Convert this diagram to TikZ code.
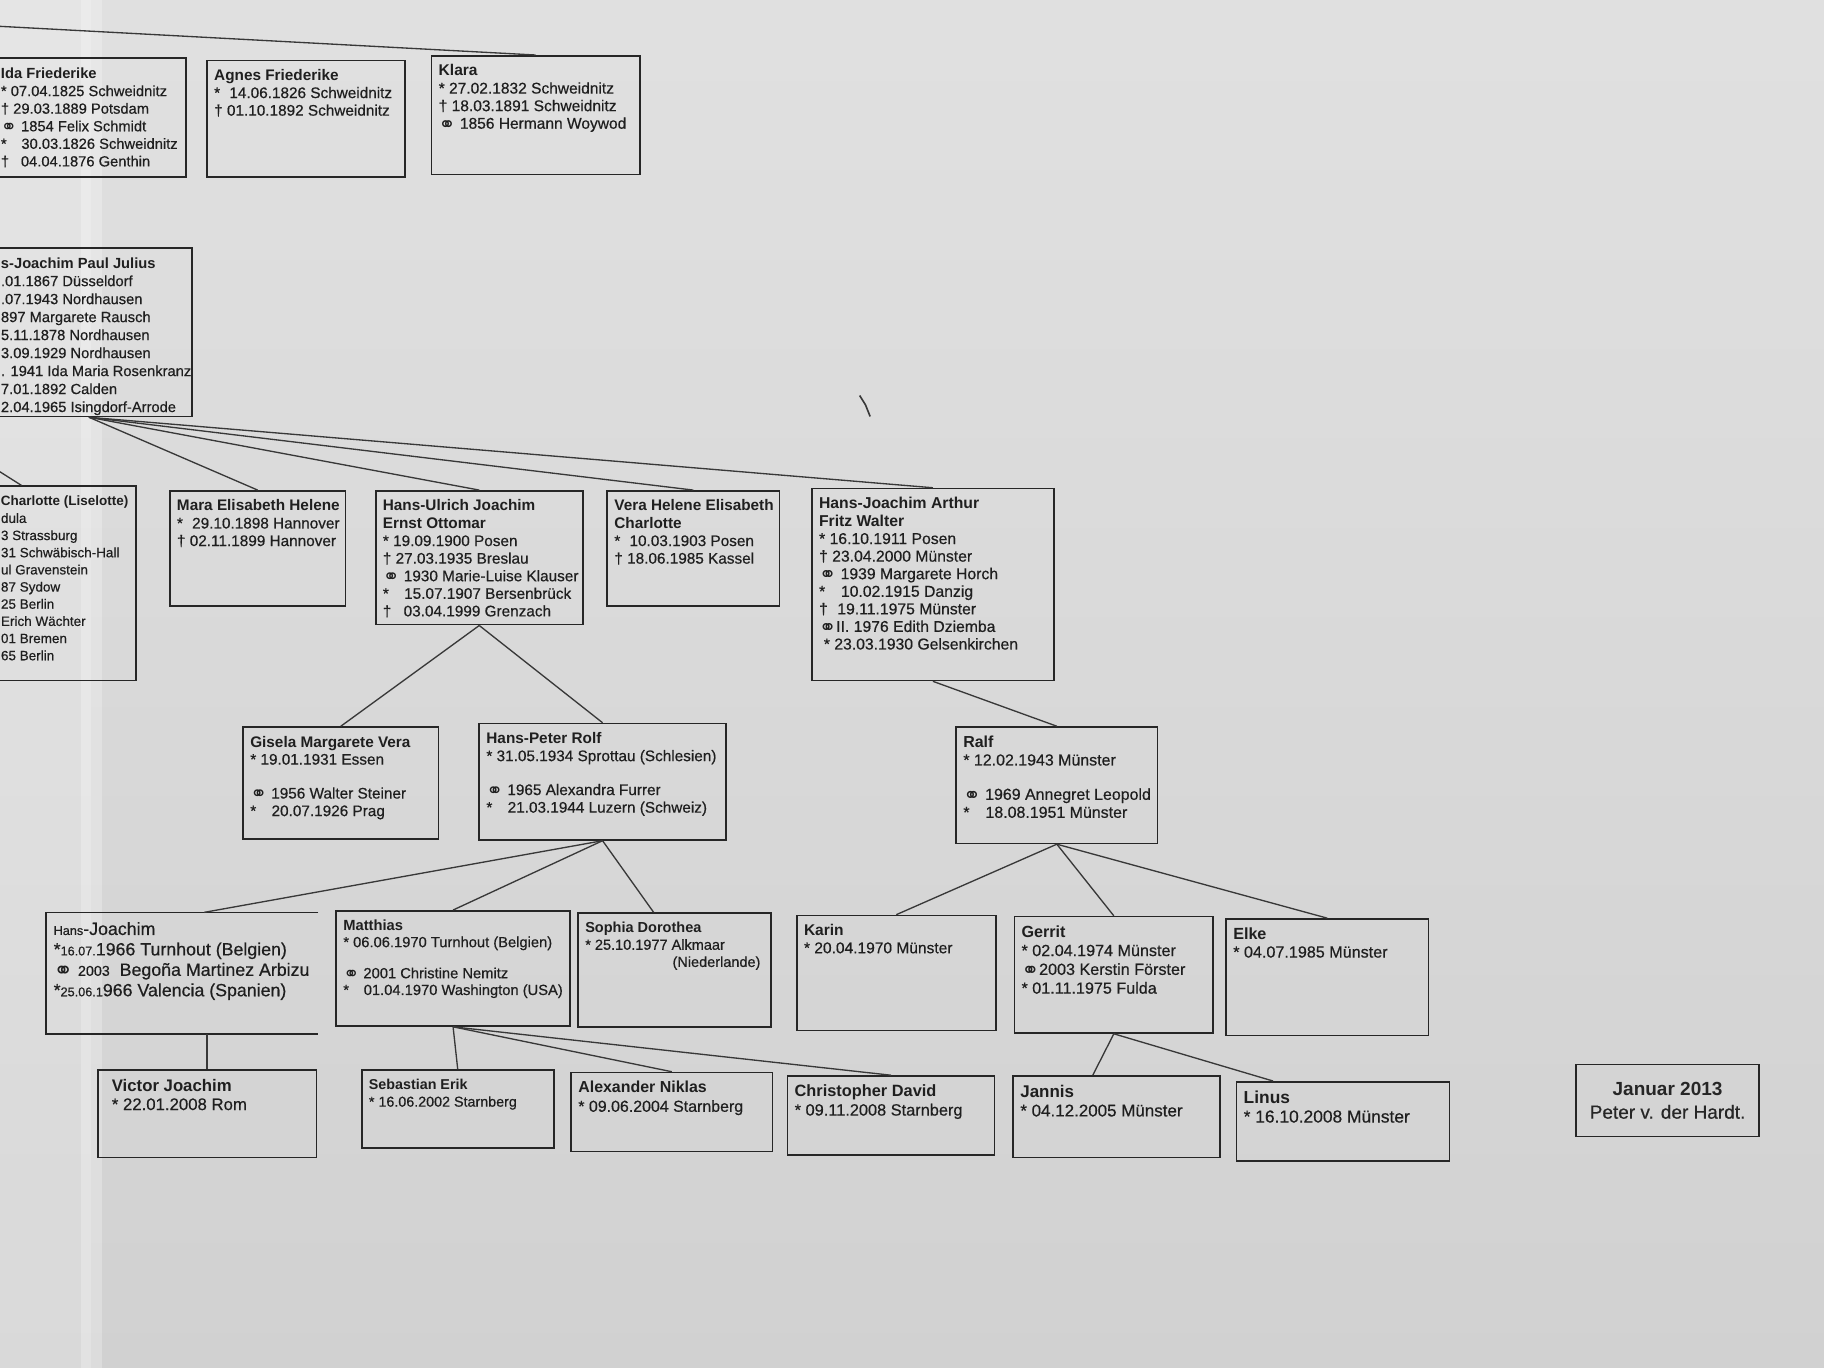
\documentclass[tikz,border=0pt]{standalone}
\usepackage{fontspec}
\setmainfont{Liberation Sans}[UprightFeatures={FakeBold=0.5}]
\newfontfamily\symfont{DejaVu Sans}
\usetikzlibrary{fit}
\newcommand{\verh}{\raisebox{-0.15em}{\scalebox{1.3}{\symfont ⚭}}}
\tikzset{fam/.style = {draw=black!85, line width=0.8pt, inner sep=0}}
\tikzset{data/.style = {anchor=north west, align=left, inner xsep=0.13cm, inner ysep=0.16cm, text=black!88, font=\fontsize{7.5}{8.6}\selectfont}}
\tikzset{fs/.style 2 args = {font=\fontsize{#1}{#2}\selectfont}}
\tikzset{kin/.style = {draw=black!78, line width=0.65pt}}

\begin{document}
\begin{tikzpicture}[x=0.02cm, y=-0.02cm]
    \useasboundingbox (0,0) rectangle (1568,1176);
    \shade [top color=black!12, bottom color=black!18] (0,0) rectangle (1568,1176);
    \clip (0,0) rectangle (1568,1176);
    \fill [white, opacity=0.18] (0,0) rectangle (78,1176);
    \fill [white, opacity=0.25] (70,0) rectangle (88,1176);

    % top row
    \node [fam, fit={(-12,50) (160,152)}] (ida) {};
    \node [data, fs={7.2}{8.6}] (ida-t) at (-6,50) {\textbf{Ida Friederike}\\* 07.04.1825 Schweidnitz\\† 29.03.1889 Potsdam\\\verh{} 1854 Felix Schmidt\\*\hspace{1em}30.03.1826 Schweidnitz\\†\hspace{0.8em}04.04.1876 Genthin};
    \node [fam, fit={(178,52) (348,152)}] (agnes) {};
    \node [data] (agnes-t) at (agnes.north west) {\textbf{Agnes Friederike}\\*\hspace{0.6em}14.06.1826 Schweidnitz\\† 01.10.1892 Schweidnitz};
    \node [fam, fit={(371,48) (550,150)}] (klara) {};
    \node [data, fs={7.6}{8.6}] (klara-t) at (klara.north west) {\textbf{Klara}\\* 27.02.1832 Schweidnitz\\† 18.03.1891 Schweidnitz\\\verh{} 1856 Hermann Woywod};
    \coordinate (gp) at (-12,22);
    \draw [kin] (gp) -- (klara.north);

    % Hans-Joachim Paul Julius
    \node [fam, fit={(-12,213) (165,358)}] (hjpj) {};
    \node [data, fs={7.2}{8.8}] (hjpj-t) at (-6,213) {\textbf{s-Joachim Paul Julius}\\.01.1867 Düsseldorf\\.07.1943 Nordhausen\\897 Margarete Rausch\\5.11.1878 Nordhausen\\3.09.1929 Nordhausen\\. 1941 Ida Maria Rosenkranz\\7.01.1892 Calden\\2.04.1965 Isingdorf-Arrode};

    % children
    \node [fam, fit={(-80,418) (117,585)}] (charlotte) {};
    \node [data, fs={6.6}{8.4}] (charlotte-t) at (-6,418) {\textbf{Charlotte (Liselotte)}\\dula\\3 Strassburg\\31 Schwäbisch-Hall\\ul Gravenstein\\87 Sydow\\25 Berlin\\Erich Wächter\\01 Bremen\\65 Berlin};
    \node [fam, fit={(146,422) (297,521)}] (mara) {};
    \node [data] (mara-t) at (mara.north west) {\textbf{Mara Elisabeth Helene}\\*\hspace{0.6em}29.10.1898 Hannover\\† 02.11.1899 Hannover};
    \node [fam, fit={(323,422) (501,537)}] (hu) {};
    \node [data] (hu-t) at (hu.north west) {\textbf{Hans-Ulrich Joachim}\\\textbf{Ernst Ottomar}\\* 19.09.1900 Posen\\† 27.03.1935 Breslau\\\verh{} 1930 Marie-Luise Klauser\\*\hspace{1em}15.07.1907 Bersenbrück\\†\hspace{0.8em}03.04.1999 Grenzach};
    \node [fam, fit={(522,422) (670,521)}] (vera) {};
    \node [data] (vera-t) at (vera.north west) {\textbf{Vera Helene Elisabeth}\\\textbf{Charlotte}\\*\hspace{0.6em}10.03.1903 Posen\\† 18.06.1985 Kassel};
    \node [fam, fit={(698,420) (906,585)}] (hja) {};
    \node [data, fs={7.7}{8.6}] (hja-t) at (hja.north west) {\textbf{Hans-Joachim Arthur}\\\textbf{Fritz Walter}\\* 16.10.1911 Posen\\† 23.04.2000 Münster\\\verh{} 1939 Margarete Horch\\*\hspace{1em}10.02.1915 Danzig\\†\hspace{0.6em}19.11.1975 Münster\\\verh{}II. 1976 Edith Dziemba\\\hspace{0.3em}* 23.03.1930 Gelsenkirchen};
    \coordinate (cp) at (-12,398);
    \draw [kin] (cp) -- (charlotte.north);
    \draw [kin] (hjpj.south) -- (mara.north);
    \draw [kin] (hjpj.south) -- (hu.north);
    \draw [kin] (hjpj.south) -- (vera.north);
    \draw [kin] (hjpj.south) -- (hja.north);

    % grandchildren
    \node [fam, fit={(209,625) (377,721)}] (gisela) {};
    \node [data, fs={7.5}{8.6}] (gisela-t) at (gisela.north west) {\textbf{Gisela Margarete Vera}\\* 19.01.1931 Essen\\[8pt]\verh{} 1956 Walter Steiner\\*\hspace{1em}20.07.1926 Prag};
    \node [fam, fit={(412,622) (624,722)}] (hp) {};
    \node [data] (hp-t) at (hp.north west) {\textbf{Hans-Peter Rolf}\\* 31.05.1934 Sprottau (Schlesien)\\[8pt]\verh{} 1965 Alexandra Furrer\\*\hspace{1em}21.03.1944 Luzern (Schweiz)};
    \node [fam, fit={(822,625) (995,725)}] (ralf) {};
    \node [data, fs={7.8}{8.8}] (ralf-t) at (ralf.north west) {\textbf{Ralf}\\* 12.02.1943 Münster\\[8pt]\verh{} 1969 Annegret Leopold\\*\hspace{1em}18.08.1951 Münster};
    \draw [kin] (hu.south) -- (gisela.north);
    \draw [kin] (hu.south) -- (hp.north);
    \draw [kin] (hja.south) -- (ralf.north);

    % great-grandchildren
    \node [fam, draw=none, fit={(40,785) (273,888)}] (hjgs) {};
    \draw [fam] (hjgs.north east) -- (hjgs.north west) -- (hjgs.south west) -- (hjgs.south east);
    \node [data, fs={8.7}{10}] (hjgs-t) at (hjgs.north west) {{\fontsize{6.2}{8}\selectfont Hans}-Joachim\\*{\fontsize{6.2}{8}\selectfont 16.07.}1966 Turnhout (Belgien)\\\verh{} {\fontsize{7}{8}\selectfont 2003}\ \ Begoña Martinez Arbizu\\*{\fontsize{6.2}{8}\selectfont 25.06.1}966 Valencia (Spanien)};
    \node [fam, fit={(289,783) (490,882)}] (matthias) {};
    \node [data, fs={7.2}{8.2}] (matthias-t) at (matthias.north west) {\textbf{Matthias}\\* 06.06.1970 Turnhout (Belgien)\\[7pt]\verh{} 2001 Christine Nemitz\\*\hspace{1em}01.04.1970 Washington (USA)};
    \node [fam, fit={(497,785) (663,883)}] (sophia) {};
    \node [data, fs={7.1}{8.4}] (sophia-t) at (sophia.north west) {\textbf{Sophia Dorothea}\\* 25.10.1977 Alkmaar\\\hspace*{1.5cm}(Niederlande)};
    \node [fam, fit={(685,787) (856,886)}] (karin) {};
    \node [data, fs={7.6}{8.6}] (karin-t) at (karin.north west) {\textbf{Karin}\\* 20.04.1970 Münster};
    \node [fam, fit={(872,788) (1043,888)}] (gerrit) {};
    \node [data, fs={7.9}{9.2}] (gerrit-t) at (gerrit.north west) {\textbf{Gerrit}\\* 02.04.1974 Münster\\\verh{}2003 Kerstin Förster\\* 01.11.1975 Fulda};
    \node [fam, fit={(1054,790) (1228,890)}] (elke) {};
    \node [data, fs={7.9}{8.8}] (elke-t) at (elke.north west) {\textbf{Elke}\\* 04.07.1985 Münster};
    \draw [kin] (hp.south) -- (hjgs.70);
    \draw [kin] (hp.south) -- (matthias.north);
    \draw [kin] (hp.south) -- (sophia.110);
    \draw [kin] (ralf.south) -- (karin.north);
    \draw [kin] (ralf.south) -- (gerrit.north);
    \draw [kin] (ralf.south) -- (elke.north);

    % bottom row
    \node [fam, fit={(84,920) (272,995)}] (victor) {};
    \node [data, fs={8.2}{9.2}, xshift=0.12cm] (victor-t) at (victor.north west) {\textbf{Victor Joachim}\\* 22.01.2008 Rom};
    \node [fam, fit={(311,920) (476,987)}] (sebastian) {};
    \node [data, fs={7}{8.4}] (sebastian-t) at (sebastian.north west) {\textbf{Sebastian Erik}\\* 16.06.2002 Starnberg};
    \node [fam, fit={(491,922) (664,990)}] (alexander) {};
    \node [data, fs={7.8}{9.2}] (alexander-t) at (alexander.north west) {\textbf{Alexander Niklas}\\* 09.06.2004 Starnberg};
    \node [fam, fit={(677,925) (855,993)}] (christopher) {};
    \node [data, fs={8}{9.2}] (christopher-t) at (christopher.north west) {\textbf{Christopher David}\\* 09.11.2008 Starnberg};
    \node [fam, fit={(871,925) (1049,995)}] (jannis) {};
    \node [data, fs={8.3}{9.4}] (jannis-t) at (jannis.north west) {\textbf{Jannis}\\* 04.12.2005 Münster};
    \node [fam, fit={(1063,930) (1246,998)}] (linus) {};
    \node [data, fs={8.5}{9.4}] (linus-t) at (linus.north west) {\textbf{Linus}\\* 16.10.2008 Münster};
    \draw [kin] (victor.north) -- (victor.north |- hjgs.south);
    \draw [kin] (matthias.south) -- (sebastian.north);
    \draw [kin] (matthias.south) -- (alexander.north);
    \draw [kin] (matthias.south) -- (christopher.north);
    \draw [kin] (gerrit.south) -- (jannis.120);
    \draw [kin] (gerrit.south) -- (linus.150);

    % date
    \node [fam, fit={(1355,915) (1512,977)}] (stand) {};
    \node [align=center, text=black!85, fs={9.3}{11.4}] (stand-t) at (stand.center) {\textbf{Januar 2013}\\Peter v. der Hardt.};

    \draw [kin, line width=0.8pt] (739,340) -- (744,348) -- (748,358);
\end{tikzpicture}
\end{document}
